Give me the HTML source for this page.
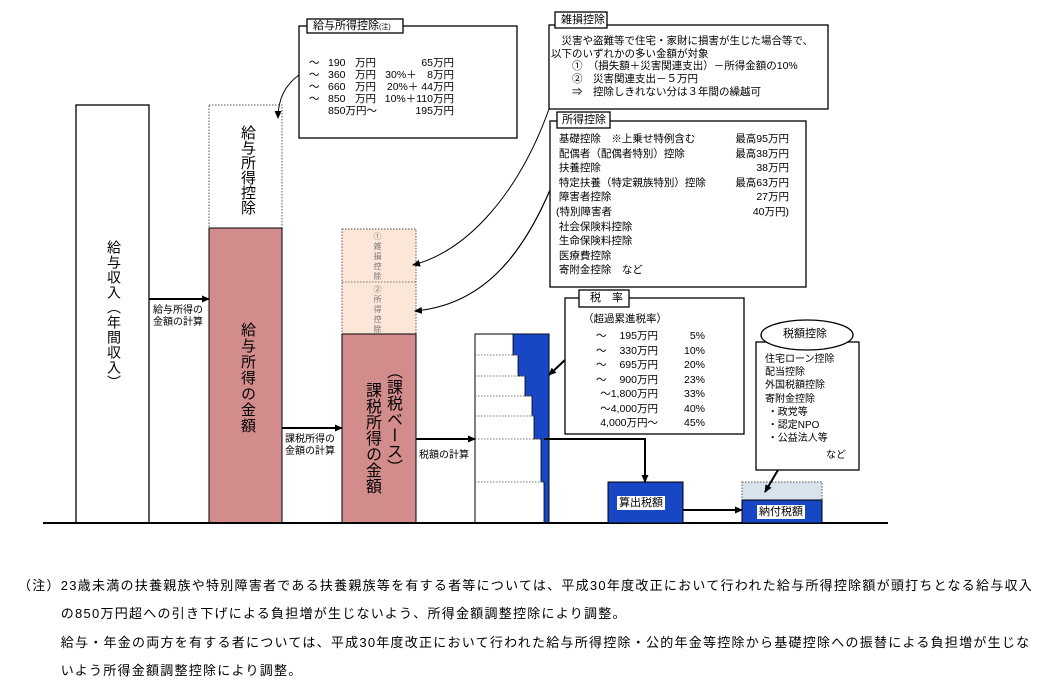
<!DOCTYPE html>
<html><head><meta charset="utf-8">
<style>
body{margin:0;background:#fff;}
#c{position:relative;width:1062px;height:688px;overflow:hidden;font-family:"Liberation Sans","Noto Sans CJK JP",sans-serif;color:#000;}
.a{position:absolute;white-space:nowrap;}
.v{position:absolute;writing-mode:vertical-rl;white-space:nowrap;}
.s{font-size:10.5px;line-height:12px;}
</style></head><body><div id="c">
<svg width="1062" height="688" style="position:absolute;left:0;top:0">
<defs><marker id="ar" markerWidth="8" markerHeight="8" refX="7" refY="4" orient="auto" markerUnits="userSpaceOnUse"><path d="M0,0.5 L8,4 L0,7.5z" fill="#000"/></marker></defs>
<rect x="76" y="105" width="73" height="418" fill="#fff" stroke="#000" stroke-width="1.3"/>
<rect x="209" y="105" width="73" height="123" fill="#fff" stroke="#555" stroke-dasharray="1.5,1.5"/>
<rect x="209" y="228" width="73" height="295" fill="#d38c8c" stroke="#000"/>
<rect x="342" y="229" width="74" height="105" fill="#fbe6d8" stroke="#555" stroke-dasharray="1.5,1.5"/>
<line x1="342" y1="282" x2="416" y2="282" stroke="#777" stroke-dasharray="1.5,1.5"/>
<rect x="342" y="334" width="74" height="189" fill="#d38c8c" stroke="#000"/>
<rect x="475" y="334" width="74" height="189" fill="#fff" stroke="#000"/>
<path d="M513,334 H549 V523 H544 V482 H541 V439 H534 V416 H532 V396 H525 V376 H518 V355 H513 Z" fill="#1747c4" stroke="#000" stroke-width="0.8"/>
<g stroke="#777" stroke-dasharray="1.5,1.5">
<line x1="475" y1="355" x2="518" y2="355"/><line x1="475" y1="376" x2="525" y2="376"/>
<line x1="475" y1="396" x2="532" y2="396"/><line x1="475" y1="416" x2="534" y2="416"/>
<line x1="475" y1="439" x2="541" y2="439"/><line x1="475" y1="482" x2="544" y2="482"/></g>
<line x1="43" y1="523" x2="888" y2="523" stroke="#000" stroke-width="2"/>
<line x1="149" y1="299" x2="209" y2="299" stroke="#000" stroke-width="2" marker-end="url(#ar)"/>
<line x1="282" y1="428" x2="342" y2="428" stroke="#000" stroke-width="2" marker-end="url(#ar)"/>
<line x1="416" y1="439" x2="475" y2="439" stroke="#000" stroke-width="2" marker-end="url(#ar)"/>
<polyline points="544,439 645,439 645,482" fill="none" stroke="#000" stroke-width="2" marker-end="url(#ar)"/>
<line x1="683" y1="510" x2="742" y2="510" stroke="#000" stroke-width="2" marker-end="url(#ar)"/>
<rect x="608" y="482" width="75" height="41" fill="#1747c4" stroke="#000"/>
<rect x="742" y="482" width="80" height="18" fill="#d8e3ee" stroke="#555" stroke-dasharray="1.5,1.5"/>
<rect x="742" y="500" width="80" height="23" fill="#1747c4" stroke="#000"/>
<rect x="299" y="26" width="218" height="112" fill="#fff" stroke="#000" stroke-width="1.3"/>
<rect x="307" y="19" width="96" height="14" fill="#fff" stroke="#000" stroke-width="1.3"/>
<rect x="549" y="25" width="279" height="84" fill="#fff" stroke="#000" stroke-width="1.3"/>
<rect x="555" y="12" width="52" height="16" fill="#fff" stroke="#000" stroke-width="1.3"/>
<rect x="550" y="121" width="256" height="166" fill="#fff" stroke="#000" stroke-width="1.3"/>
<rect x="557" y="112" width="53" height="16" fill="#fff" stroke="#000" stroke-width="1.3"/>
<rect x="565" y="298" width="179" height="136" fill="#fff" stroke="#000" stroke-width="1.3"/>
<rect x="579" y="290" width="50" height="17" fill="#fff" stroke="#000" stroke-width="1.3"/>
<rect x="756" y="342" width="103" height="128" fill="#fff" stroke="#000" stroke-width="1.3"/>
<ellipse cx="807" cy="335" rx="46" ry="15" fill="#fff" stroke="#000" stroke-width="1.3"/>
<path d="M299,75 C285,85 278,100 278,118" fill="none" stroke="#000" marker-end="url(#ar)"/>
<path d="M549,109 C520,190 470,250 413,265" fill="none" stroke="#000" marker-end="url(#ar)"/>
<path d="M550,190 C520,260 480,305 415,311" fill="none" stroke="#000" stroke-width="1.2" marker-end="url(#ar)"/>
<line x1="565" y1="360" x2="549" y2="375" stroke="#000" stroke-width="2" marker-end="url(#ar)"/>
<line x1="778" y1="470" x2="765" y2="492" stroke="#000" stroke-width="2" marker-end="url(#ar)"/>
</svg>

<div class="v" style="left:104px;top:240px;font-size:14px;letter-spacing:1px;">給与収入（年間収入）</div>
<div class="v" style="left:237px;top:125px;font-size:15px;letter-spacing:0px;">給与所得控除</div>
<div class="v" style="left:237px;top:322px;font-size:15px;letter-spacing:1px;">給与所得の金額</div>
<div class="v" style="left:359px;top:382px;font-size:16px;">課税所得の金額</div>
<div class="v" style="left:380px;top:363px;font-size:16px;">（課税ベース）</div>
<div class="v" style="left:373px;top:232px;font-size:8px;color:#777;line-height:9px;letter-spacing:2px;">①雑損控除</div>
<div class="v" style="left:373px;top:285px;font-size:8px;color:#777;line-height:9px;letter-spacing:2px;">②所得控除</div>

<div class="a" style="left:153px;top:305px;font-size:10px;line-height:12px;">給与所得の<br>金額の計算</div>
<div class="a" style="left:285px;top:434px;font-size:10px;line-height:12px;">課税所得の<br>金額の計算</div>
<div class="a" style="left:419px;top:446px;font-size:10px;">税額の計算</div>
<div class="a" style="left:617px;top:496px;font-size:11px;background:#fff;padding:0 2px;line-height:14px;">算出税額</div>
<div class="a" style="left:757px;top:505px;font-size:11px;background:#fff;padding:0 2px;line-height:14px;">納付税額</div>

<div class="a" style="left:313px;top:19px;font-size:11px;line-height:14px;">給与所得控除<span style="font-size:7px">(注)</span></div>
<div class="a s" style="left:309px;top:57px;">〜<br>〜<br>〜<br>〜</div>
<div class="a s" style="left:328px;top:57px;">190<br>360<br>660<br>850<br>850万円〜</div>
<div class="a s" style="left:355px;top:57px;">万円<br>万円<br>万円<br>万円</div>
<div class="a s" style="left:380px;top:57px;text-align:right;width:74px;">65万円<br>30%＋　8万円<br>20%＋ 44万円<br>10%＋110万円<br>195万円</div>

<div class="a" style="left:561px;top:13px;font-size:11px;line-height:14px;">雑損控除</div>
<div class="a" style="left:551px;top:35px;font-size:10.5px;line-height:12.7px;">　災害や盗難等で住宅・家財に損害が生じた場合等で、<br>以下のいずれかの多い金額が対象<br>　　①　（損失額＋災害関連支出）－所得金額の10%<br>　　②　災害関連支出－５万円<br>　　⇒　控除しきれない分は３年間の繰越可</div>

<div class="a" style="left:562px;top:113px;font-size:11px;line-height:14px;">所得控除</div>
<div class="a" style="left:556px;top:132px;font-size:10.5px;line-height:14.6px;">&nbsp;基礎控除　※上乗せ特例含む<br>&nbsp;配偶者（配偶者特別）控除<br>&nbsp;扶養控除<br>&nbsp;特定扶養（特定親族特別）控除<br>&nbsp;障害者控除<br>(特別障害者<br>&nbsp;社会保険料控除<br>&nbsp;生命保険料控除<br>&nbsp;医療費控除<br>&nbsp;寄附金控除　など</div>
<div class="a" style="left:719px;top:132px;width:70px;text-align:right;font-size:10.5px;line-height:14.6px;">最高95万円<br>最高38万円<br>38万円<br>最高63万円<br>27万円<br>40万円)</div>

<div class="a" style="left:590px;top:291px;font-size:11px;line-height:14px;">税　率</div>
<div class="a" style="left:583px;top:311px;font-size:10.5px;">（超過累進税率）</div>
<div class="a" style="left:596px;top:329px;font-size:10.5px;line-height:14.5px;">〜<br>〜<br>〜<br>〜</div>
<div class="a" style="left:592px;top:329px;width:66px;text-align:right;font-size:10.5px;line-height:14.5px;">195万円<br>330万円<br>695万円<br>900万円<br>〜1,800万円<br>〜4,000万円<br>4,000万円〜</div>
<div class="a" style="left:665px;top:329px;width:40px;text-align:right;font-size:10.5px;line-height:14.5px;">5%<br>10%<br>20%<br>23%<br>33%<br>40%<br>45%</div>

<div class="a" style="left:783px;top:327px;font-size:11px;line-height:14px;">税額控除</div>
<div class="a" style="left:765px;top:353px;font-size:10px;line-height:13.2px;">住宅ローン控除<br>配当控除<br>外国税額控除<br>寄附金控除<br>&nbsp;・政党等<br>&nbsp;・認定NPO<br>&nbsp;・公益法人等</div>
<div class="a" style="left:826px;top:446px;font-size:10px;">など</div>

<div class="a" style="left:18px;top:572px;font-size:13px;line-height:28.3px;letter-spacing:1.25px;">（注）23歳未満の扶養親族や特別障害者である扶養親族等を有する者等については、平成30年度改正において行われた給与所得控除額が頭打ちとなる給与収入<br>　　　の850万円超への引き下げによる負担増が生じないよう、所得金額調整控除により調整。<br>　　　給与・年金の両方を有する者については、平成30年度改正において行われた給与所得控除・公的年金等控除から基礎控除への振替による負担増が生じな<br>　　　いよう所得金額調整控除により調整。</div>
</div></body></html>
